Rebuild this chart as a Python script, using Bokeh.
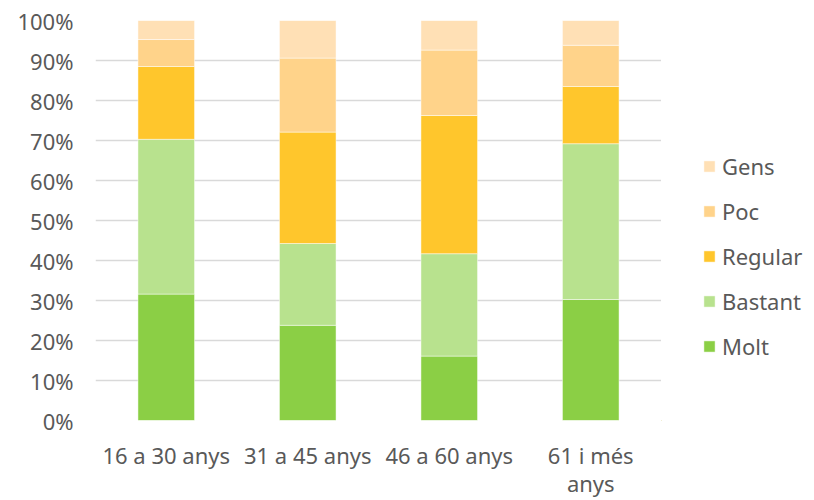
from bokeh.plotting import figure
from bokeh.layouts import row
from bokeh.models import Range1d, NumeralTickFormatter, FixedTicker, Legend, LegendItem, ColumnDataSource, LinearAxis
from bokeh.embed import file_html
from bokeh.resources import INLINE

categories = ["16 a 30 anys", "31 a 45 anys", "46 a 60 anys", "61 i més anys"]
line1 = ["16 a 30 anys", "31 a 45 anys", "46 a 60 anys", "61 i més"]
line2 = ["", "", "", "anys"]
molt = [0.316, 0.238, 0.161, 0.3025]
bastant = [0.387, 0.2045, 0.256, 0.3895]
regular = [0.182, 0.2785, 0.3455, 0.143]
poc = [0.0675, 0.185, 0.1635, 0.103]
gens = [0.0475, 0.094, 0.074, 0.062]
series = ["Molt", "Bastant", "Regular", "Poc", "Gens"]
colors = ["#8BCF45", "#B8E28E", "#FFC62C", "#FFD38A", "#FFE0B5"]

idx = list(range(len(categories)))
src = ColumnDataSource(dict(x=idx, cat=categories, Molt=molt, Bastant=bastant,
                            Regular=regular, Poc=poc, Gens=gens))

FONT = "Noto Sans"
TXT = "#595959"
FS = "22px"

p = figure(x_range=Range1d(-0.5, len(categories) - 0.5), y_range=Range1d(0, 1.0),
           width=661, height=500, output_backend="svg", toolbar_location=None,
           min_border_left=95, min_border_right=0, min_border_top=20, min_border_bottom=20)
p.outline_line_color = None

rs = p.vbar_stack(series, x="x", width=0.4, source=src, color=colors,
                  line_color="white", line_width=0.8, line_alpha=0.6)

p.yaxis.ticker = FixedTicker(ticks=[i / 10 for i in range(11)])
p.yaxis.formatter = NumeralTickFormatter(format="0%")
p.yaxis.axis_line_color = None
p.yaxis.major_tick_line_color = None
p.yaxis.minor_tick_line_color = None
p.yaxis.major_tick_out = 0
p.yaxis.major_label_standoff = 22
p.yaxis.major_label_text_font = FONT
p.yaxis.major_label_text_font_size = FS
p.yaxis.major_label_text_color = TXT

xa = p.xaxis[0]
xa.ticker = FixedTicker(ticks=idx, minor_ticks=[])
xa.axis_line_color = None
xa.major_tick_line_color = None
xa.minor_tick_line_color = None
xa.major_tick_out = 0
xa.major_label_standoff = 19
xa.major_label_text_font = FONT
xa.major_label_text_font_size = FS
xa.major_label_text_color = TXT
xa.major_label_overrides = {i: t for i, t in zip(idx, line1)}

xa2 = LinearAxis(ticker=FixedTicker(ticks=idx, minor_ticks=[]),
                 axis_line_color=None, major_tick_line_color=None, minor_tick_line_color=None,
                 major_tick_out=0, major_label_standoff=-5, major_label_text_font=FONT,
                 major_label_text_font_size=FS, major_label_text_color=TXT,
                 major_label_overrides={i: t for i, t in zip(idx, line2)})
p.add_layout(xa2, "below")

p.xgrid.grid_line_color = None
p.ygrid.grid_line_color = "#D9D9D9"
p.ygrid.grid_line_width = 1.3

# legend panel (own figure, bars kept out of its view)
lf = figure(x_range=Range1d(50, 51), y_range=Range1d(50, 51),
            width=153, height=500, output_backend="svg", toolbar_location=None,
            x_axis_location=None, y_axis_location=None,
            min_border_left=0, min_border_right=0, min_border_top=0, min_border_bottom=0)
lf.outline_line_color = None
lf.grid.grid_line_color = None
lrs = lf.vbar_stack(series, x="x", width=0.4, source=src, color=colors,
                    line_color="white", line_width=0.8, line_alpha=0.6)

items = [LegendItem(label=s, renderers=[r]) for s, r in zip(series, lrs)][::-1]
legend = Legend(items=items, location=(41, 59), orientation="vertical",
                glyph_width=14, glyph_height=14, label_height=30, spacing=15,
                padding=0, margin=0, border_line_color=None, background_fill_alpha=0,
                label_text_font=FONT, label_text_font_size=FS, label_text_color=TXT,
                label_standoff=6)
lf.add_layout(legend, "center")

layout = row(p, lf, spacing=0)
open("out.html", "w").write(file_html(layout, INLINE))
